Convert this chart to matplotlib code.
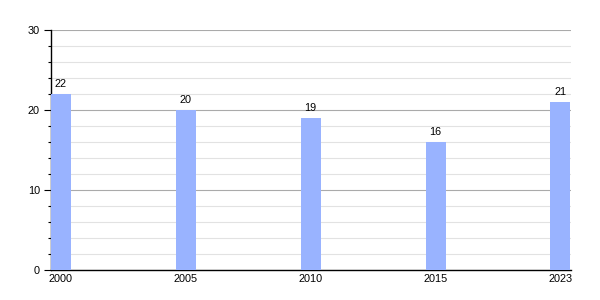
import matplotlib
matplotlib.use("Agg")
import matplotlib.pyplot as plt
from matplotlib.ticker import MultipleLocator

years = ["2000", "2005", "2010", "2015", "2023"]
values = [22, 20, 19, 16, 21]

plt.rcParams['font.family'] = ['Liberation Sans', 'DejaVu Sans']
fig = plt.figure(figsize=(6, 3), dpi=100)
ax = fig.add_axes([51/600, 30/300, 520/600, 240/300])

x = list(range(len(years)))
bars = ax.bar(x, values, width=0.16, color='#99b3ff', zorder=3)
for xi, v in zip(x, values):
    ax.text(xi, v + 0.6, str(v), ha='center', va='bottom', fontsize=7.8, color='black')

ax.set_xlim(-0.08, len(years) - 1 + 0.085)
ax.set_ylim(0, 30)
ax.set_xticks(x)
ax.set_xticklabels(years)
ax.yaxis.set_major_locator(MultipleLocator(10))
ax.yaxis.set_minor_locator(MultipleLocator(2))
ax.grid(axis='y', which='major', color='#aaaaaa', linewidth=0.8, zorder=1)
ax.grid(axis='y', which='minor', color='#e2e2e2', linewidth=0.8, zorder=0)
ax.set_axisbelow(True)
ax.tick_params(axis='x', length=0, pad=3, labelsize=7.8, colors='black')
ax.tick_params(axis='y', which='major', length=5, width=0.8, pad=3, labelsize=7.8, colors='black')
ax.tick_params(axis='y', which='minor', length=2.5, width=0.8)
for s in ['top', 'right']:
    ax.spines[s].set_visible(False)
for s in ['left', 'bottom']:
    ax.spines[s].set_color('black')
    ax.spines[s].set_linewidth(1)

fig.savefig('out.png', dpi=100)
